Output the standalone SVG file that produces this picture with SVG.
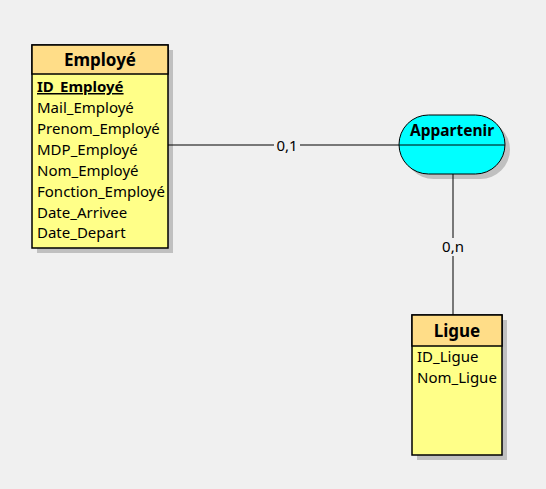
<svg xmlns="http://www.w3.org/2000/svg" width="546" height="489" viewBox="0 0 546 489">
<style>
.t{font-family:"Noto Sans","DejaVu Sans",sans-serif;font-size:15px;fill:#000}
.h{font-family:"Noto Sans","DejaVu Sans",sans-serif;font-size:17px;font-weight:bold;fill:#000}
.ha{font-family:"Noto Sans","DejaVu Sans",sans-serif;font-size:15.5px;font-weight:bold;fill:#000}
.shadow{fill:#c0c0c0}
.head{fill:#ffdd88;stroke:#000;stroke-width:1.5}
.body{fill:#ffff88;stroke:#000;stroke-width:1.5}
.ln{stroke:#000;stroke-width:1;fill:none}
.lbl{font-family:"Noto Sans","DejaVu Sans",sans-serif;font-size:15px;fill:#000}
</style>
<rect width="546" height="489" fill="#f0f0f0"/>
<g id="employe">
<rect class="shadow" x="37" y="50" width="136" height="203"/>
<rect class="body" x="32" y="45" width="136" height="203"/>
<rect class="head" x="32" y="45" width="136" height="29"/>
<text class="h" x="100" y="66" text-anchor="middle">Employé</text>
<text class="t" x="37" y="92" font-weight="bold" text-decoration="underline">ID_Employé</text>
<text class="t" x="37" y="113">Mail_Employé</text>
<text class="t" x="37" y="134">Prenom_Employé</text>
<text class="t" x="37" y="155">MDP_Employé</text>
<text class="t" x="37" y="176">Nom_Employé</text>
<text class="t" x="37" y="197">Fonction_Employé</text>
<text class="t" x="37" y="218">Date_Arrivee</text>
<text class="t" x="37" y="238">Date_Depart</text>
</g>
<g id="appartenir">
<rect class="shadow" x="404" y="120" width="106" height="59" rx="29.5"/>
<rect x="399" y="115" width="106" height="59" rx="29.5" fill="#00ffff" stroke="#000" stroke-width="1"/>
<line class="ln" x1="399" y1="145" x2="505" y2="145"/>
<text class="ha" x="452" y="136" text-anchor="middle">Appartenir</text>
</g>
<g id="ligue">
<rect class="shadow" x="417" y="320" width="90" height="140"/>
<rect class="body" x="412" y="315" width="90" height="140"/>
<rect class="head" x="412" y="315" width="90" height="31"/>
<text class="h" x="457" y="337" text-anchor="middle">Ligue</text>
<text class="t" x="417" y="362">ID_Ligue</text>
<text class="t" x="417" y="383">Nom_Ligue</text>
</g>
<g id="connectors">
<line class="ln" x1="168" y1="145" x2="399" y2="145"/>
<line class="ln" x1="453" y1="174" x2="453" y2="315"/>
<rect x="274" y="137" width="26" height="16" fill="#f0f0f0"/>
<text class="lbl" x="287" y="151" text-anchor="middle">0,1</text>
<rect x="440" y="238" width="26" height="18" fill="#f0f0f0"/>
<text class="lbl" x="453" y="252" text-anchor="middle">0,n</text>
</g>
</svg>
